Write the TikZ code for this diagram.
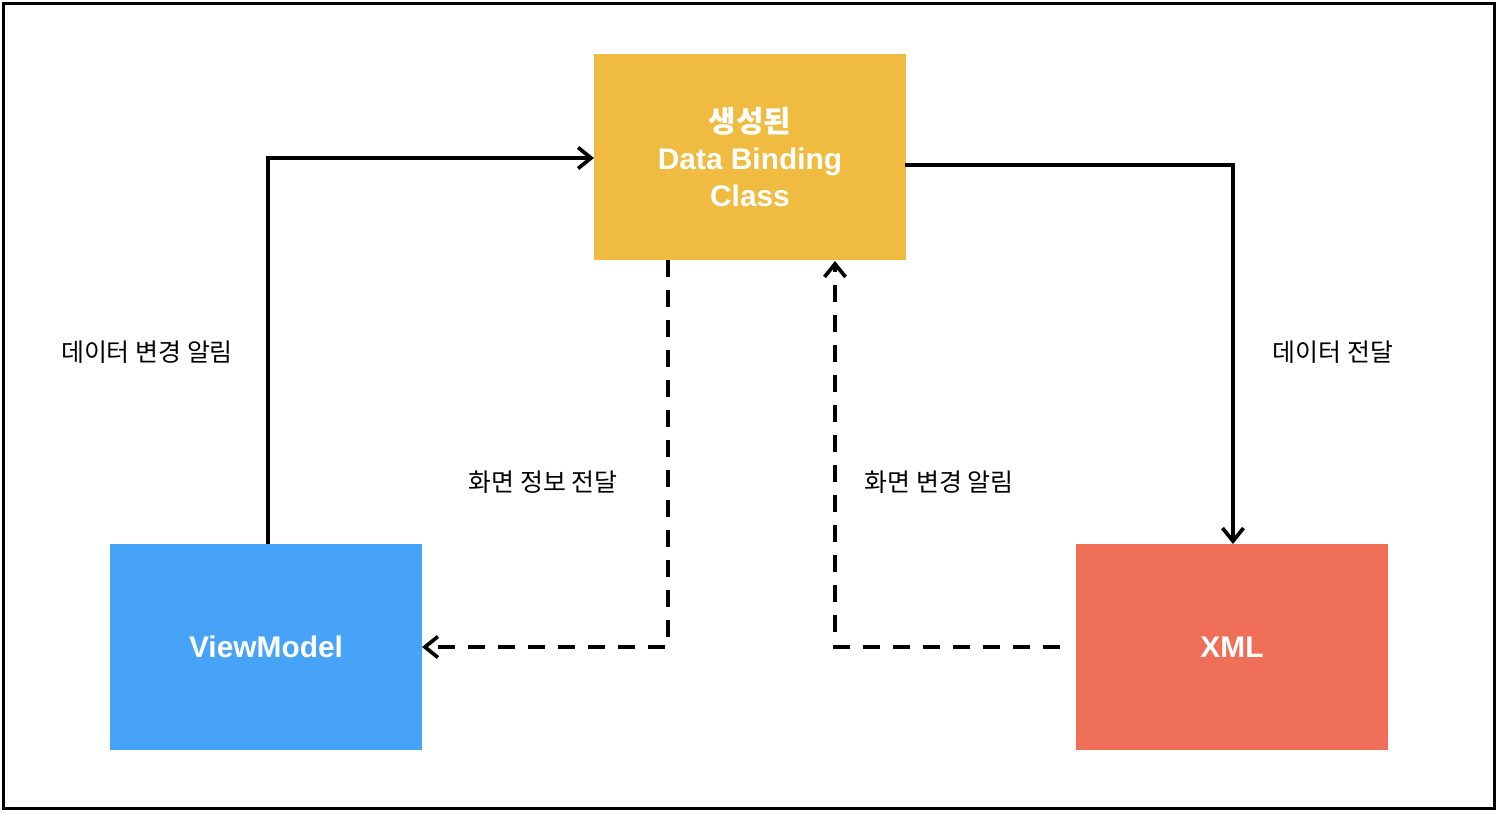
\documentclass[tikz,border=0pt]{standalone}
\usepackage{fontspec}
\setmainfont{Liberation Sans}
\newfontfamily\kr{Noto Sans CJK KR}
\usetikzlibrary{arrows.meta}
\definecolor{cyellow}{HTML}{EFBB40}
\definecolor{cblue}{HTML}{46A3F7}
\definecolor{cred}{HTML}{EE6E58}
\tikzset{
  box/.style={draw=none, inner sep=0pt, minimum width=6.24cm, minimum height=4.14cm, text=white, font=\fontsize{17}{21}\selectfont\bfseries, align=center},
  conn/.style={line width=2.1pt, -{Straight Barb[length=2.6mm, width=4.2mm, line width=2.1pt]}},
  dashconn/.style={conn, dash pattern=on 3.4mm off 2.6mm},
  lbl/.style={font=\fontsize{14.2}{17}\selectfont\kr, inner sep=0pt}
}
\begin{document}
\begin{tikzpicture}[x=0.02cm, y=-0.02cm]
\useasboundingbox (0,0) rectangle (1498,812);
\draw[line width=2.2pt] (3.5,3.5) rectangle (1494.5,808.5);
\node[box, fill=cyellow] (dbc) at (750,157) {{\kr 생성된}\\Data Binding\\Class};
\node[box, fill=cblue] (vm) at (266,647) {ViewModel};
\node[box, fill=cred] (xml) at (1232,647) {XML};
\coordinate (vmtop) at (268,544);
\coordinate (dbcl) at (594,158);
\coordinate (dbcr) at (905,165);
\coordinate (xmltop) at (1233,544);
\coordinate (dbcb1) at (668,260);
\coordinate (vmr) at (422,647);
\coordinate (xmll) at (1060,647);
\coordinate (dbcb2) at (835,261);
\draw[conn] (vmtop) |- (dbcl);
\draw[conn] (dbcr) -| (xmltop);
\draw[dashconn] (dbcb1) |- (vmr);
\draw[dashconn] (xmll) -| (dbcb2);
\node[lbl] (l1) at (147,352) {데이터 변경 알림};
\node[lbl] (l2) at (1333,352) {데이터 전달};
\node[lbl] (l3) at (543,482) {화면 정보 전달};
\node[lbl] (l4) at (939,482) {화면 변경 알림};
\end{tikzpicture}
\end{document}
